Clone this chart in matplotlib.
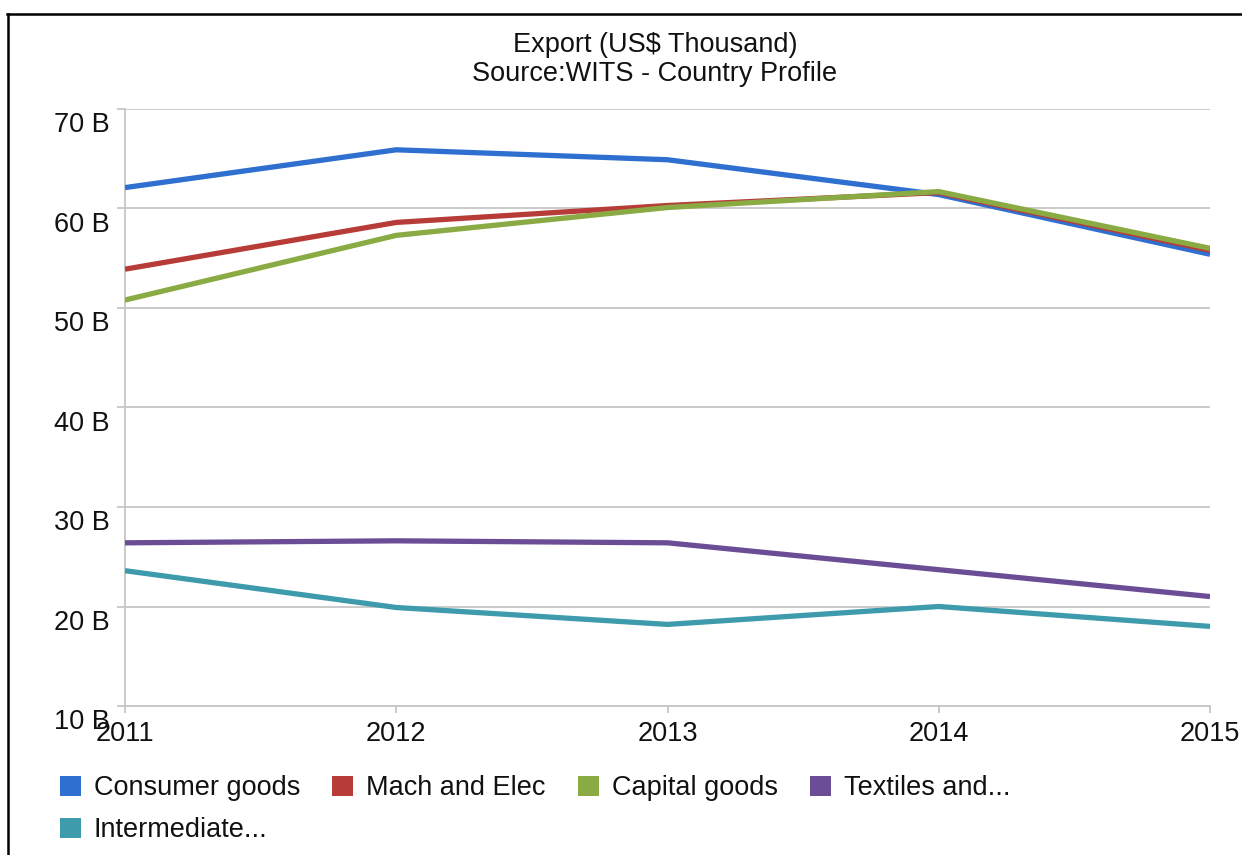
import matplotlib
matplotlib.use("Agg")
import matplotlib.pyplot as plt
import matplotlib.transforms as mtransforms
from matplotlib.patches import Patch
from matplotlib.lines import Line2D

plt.rcParams['font.family'] = ['Liberation Sans', 'DejaVu Sans']

years = [2011, 2012, 2013, 2014, 2015]
series_names = ["Consumer goods", "Mach and Elec", "Capital goods", "Textiles and...", "Intermediate..."]
consumer = [62.1, 65.9, 64.9, 61.4, 55.4]
mach = [53.9, 58.6, 60.3, 61.6, 55.8]
capital = [50.8, 57.3, 60.1, 61.7, 56.0]
textiles = [26.4, 26.6, 26.4, 23.7, 21.0]
intermediate = [23.6, 19.9, 18.2, 20.0, 18.0]
yticks = [10, 20, 30, 40, 50, 60, 70]
ytick_labels = ["10 B", "20 B", "30 B", "40 B", "50 B", "60 B", "70 B"]
title_lines = ["Export (US$ Thousand)", "Source:WITS - Country Profile"]

values = [consumer, mach, capital, textiles, intermediate]
colors = ["#2f6fd0", "#b73c37", "#8aab44", "#6b4d95", "#3d9bab"]

W, H = 1242, 855
fig = plt.figure(figsize=(W / 100, H / 100), dpi=100)
fig.patch.set_facecolor("white")

left, right, top, bottom = 125, 1210, 109, 706
ax = fig.add_axes([left / W, 1 - bottom / H, (right - left) / W, (bottom - top) / H])

for vals, c in zip(values, colors):
    ax.plot(years, vals, color=c, lw=3.8, solid_capstyle='butt', solid_joinstyle='round', zorder=3)

ax.set_xlim(2011, 2015)
ax.set_ylim(10, 70)
ax.set_xticks(years)
ax.set_xticklabels([str(y) for y in years])
ax.set_yticks(yticks)
ax.set_yticklabels(ytick_labels)

fs = 19.5
txt_c = "#111111"
grid_c = "#c6c6c6"
ax.grid(axis='y', color=grid_c, lw=1.3, zorder=1)
for s in ['top', 'right']:
    ax.spines[s].set_visible(False)
for s in ['left', 'bottom']:
    ax.spines[s].set_color(grid_c)
    ax.spines[s].set_linewidth(1.3)

ax.tick_params(axis='y', length=6, color=grid_c, width=1.3, labelsize=fs, pad=5, labelcolor=txt_c)
ax.tick_params(axis='x', length=5, color=grid_c, width=1.3, labelsize=fs, pad=6, labelcolor=txt_c)

offset = mtransforms.ScaledTranslation(0, -13 / 100, fig.dpi_scale_trans)
for lab in ax.get_yticklabels():
    lab.set_transform(lab.get_transform() + offset)

# titles
fig.text(655 / W, 1 - 45 / H, title_lines[0], ha='center', va='center', fontsize=fs, color=txt_c)
fig.text(655 / W, 1 - 74 / H, title_lines[1], ha='center', va='center', fontsize=fs, color=txt_c)

# legend
handles = [Patch(facecolor=c, edgecolor='none') for c in colors]
order = [0, 4, 1, 2, 3]
leg = fig.legend([handles[i] for i in order], [series_names[i] for i in order],
                 loc='upper left', bbox_to_anchor=(60 / W, 1 - 775 / H),
                 ncol=4, frameon=False, fontsize=fs,
                 handlelength=0.76, handleheight=0.76, handletextpad=0.48,
                 columnspacing=1.2, labelspacing=0.6, borderaxespad=0, borderpad=0)
for t in leg.get_texts():
    t.set_color(txt_c)

# frame border (top and left)
fig.add_artist(Line2D([7 / W, 1], [1 - 14 / H, 1 - 14 / H], transform=fig.transFigure, color='black', lw=1.8))
fig.add_artist(Line2D([8 / W, 8 / W], [1 - 14 / H, 0], transform=fig.transFigure, color='black', lw=1.8))

fig.savefig("out.png", dpi=100)
